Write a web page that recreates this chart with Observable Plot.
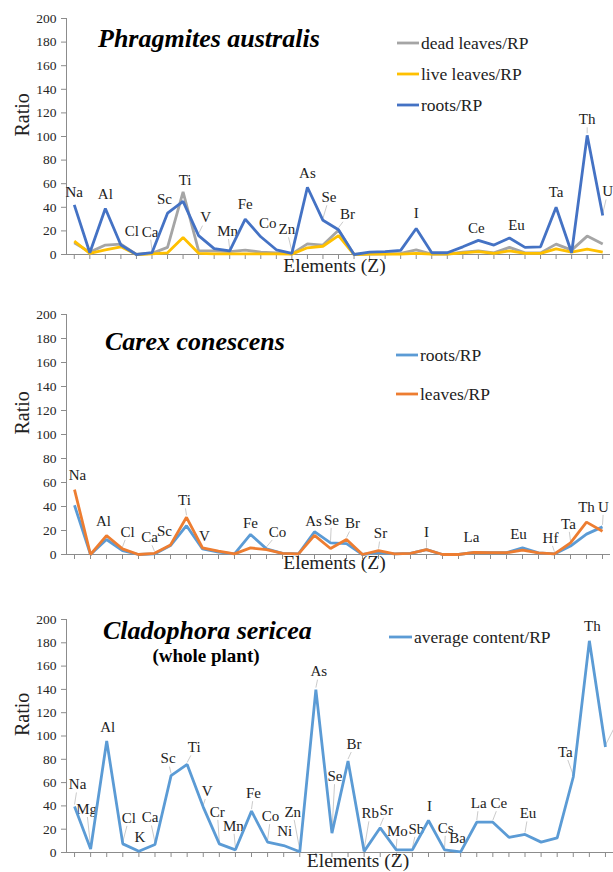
<!DOCTYPE html>
<html><head><meta charset="utf-8">
<script src="https://cdn.jsdelivr.net/npm/d3@7"></script>
<script src="https://cdn.jsdelivr.net/npm/@observablehq/plot@0.6"></script>
<style>
body{margin:0;background:#fff;}
#root{position:relative;width:613px;height:872px;overflow:hidden;background:#fff;}
.panel{position:absolute;left:0;}
</style></head><body><div id="root"></div>
<script>
// ---------- data ----------
const ratioTicks = [0,20,40,60,80,100,120,140,160,180,200];

const elementsP = ["Na","Mg","Al","Cl","K","Ca","Sc","Ti","V","Cr","Mn","Fe","Co","Ni","Zn","As","Se","Br","Rb","Sr","Mo","Sb","I","Cs","Ba","La","Ce","Sm","Eu","Yb","Hf","Ta","W","Th","U"];
const deadLeavesP = [10,2,8,8.8,0,1,6,53,3,3,2.5,3.7,2,1.4,0.5,9,8,20.6,0,0.3,0.5,1,4,0.3,0.3,2,3,1.4,6,1.4,1.4,8.8,3.7,15.6,9];
const liveLeavesP = [11.3,1,4,6.5,0,0.5,1.4,14.4,1,0.5,0.5,0.5,0.5,0.5,0.3,5.7,7,16,0,0.3,0.3,0.3,1,0.3,0.3,1.4,2.5,1,3,1,1,4.8,2,4.5,2];
const rootsP = [42,1.5,39,8,0,1.5,35,45,16,5,3,30,15,4,1,57,29,21,0,2,2.5,3.5,22,1.5,1.5,6.5,12,8,14,6,6.5,40,1.5,101,33];

const elementsC = ["Na","Mg","Al","Cl","K","Ca","Sc","Ti","V","Cr","Mn","Fe","Co","Ni","Zn","As","Se","Br","Rb","Sr","Mo","Sb","I","Cs","Ba","La","Ce","Sm","Eu","Yb","Hf","Ta","Th","U"];
const rootsC = [41,0,12.5,3.3,0,0.5,7.5,24,4.7,2,0.5,16.7,4.7,1,0.5,19,9.7,9,0,1.7,0.5,1,4,0,0,1.7,1.5,1.5,5.5,1.4,0.5,7,17,23];
const leavesC = [54,0,15.8,4.7,0,1,8,31,5.5,2.8,0.5,5.5,4,1,0.5,16,5,12.5,0,3.3,0.5,1,4,0,0,1.7,1.5,1.5,3.6,1.4,0.5,9.7,27,19.4];

const elementsS = elementsC;
const averageS = [39.5,3,95.7,7.4,1,6.9,66,75.6,39,7.4,2.3,35.5,8.9,6,0.6,139.8,16.6,78.5,1,21.2,2.3,2.3,27.5,2.3,0.6,26,26,13,15.5,8.9,12.6,64.8,181.7,90.5];

// annotation offsets (label centre relative to point, px)
const labelsP = [["Na",0,-13],["Al",0,-14],["Cl",11,-13],["Ca",-2,-21],["Sc",-3,-14],["Ti",2,-12],["V",7,-18],["Mn",-2,-20],["Fe",0,-15],["Co",7,-14],["Zn",-5,-24],["As",0,-14],["Se",6,-23],["Br",9,-16],["I",0,-15],["Ce",-2,-12],["Eu",7,-13],["Ta",0,-15],["Th",0,-16],["U",5,-24]];
const labelsC = [["Na",3,-15],["Al",-3,-14],["Cl",5,-17],["Ca",-5,-16],["Sc",-6,-14],["Ti",-2,-17],["V",2,-12],["Fe",0,-11],["Co",11,-17],["As",-1,-11],["Se",1,-23],["Br",6,-16],["Sr",2,-17],["I",0,-18],["La",-3,-15],["Eu",-4,-14],["Hf",-4,-16],["Ta",-2,-19],["Th",0,-15],["U",1,-20]];
const labelsS = [["Na",3,-22],["Mg",-4,-40],["Al",1,-14],["Cl",6,-26],["K",1,-14],["Ca",-5,-27],["Sc",-3,-17],["Ti",7,-17],["V",4,-16],["Cr",-2,-32],["Mn",-2,-24],["Fe",2,-18],["Co",3,-26],["Ni",1,-14],["Zn",-7,-40],["As",3,-18],["Se",3,-57],["Br",6,-17],["Rb",6,-38],["Sr",6,-18],["Mo",1,-19],["Sb",4,-21],["I",1,-14],["Cs",1,-22],["Ba",-3,-14],["La",2,-19],["Ce",6,-19],["Eu",3,-21],["Ta",-8,-25],["Th",3,-15],["U",16,-34]];

const FONT = "Liberation Serif, Tinos, Times New Roman, DejaVu Serif, serif";

function makePanel(cfg) {
  const {top, height, mt, mb, mr, elements, series, labels, title, subtitle, legend, xTitleDx, xTitleDy} = cfg;
  const W = 613, ml = 66;
  const n = elements.length;
  const kx = (W - ml - mr) / n;
  const ky = (height - mt - mb) / 200;
  const marks = [];
  marks.push(Plot.axisY(ratioTicks, {tickSize: 5, tickPadding: 5, fontSize: 13.5, stroke: "#8c8c8c", fill: "#262626", label: null}));
  marks.push(Plot.axisX(d3.range(n), {tickSize: 5, tickFormat: () => "", stroke: "#8c8c8c", label: null}));
  marks.push(Plot.ruleX([-0.5], {stroke: "#8c8c8c"}));
  marks.push(Plot.ruleY([0], {stroke: "#8c8c8c"}));
  for (const [el, dx, dy] of labels) {
    const i = elements.indexOf(el);
    const v = d3.max(series, s => s.values[i]);
    if (-dy > 15) {
      const f = (-dy - 8) / (-dy);
      marks.push(Plot.link([{x1: i, y1: v + 2 / ky, x2: i + dx * f / kx, y2: v + (-dy - 8) / ky}],
        {x1: "x1", y1: "y1", x2: "x2", y2: "y2", stroke: "#c4c4c4", strokeWidth: 0.9}));
    }
    marks.push(Plot.text([{x: i, y: v, t: el}], {x: "x", y: "y", text: "t", dx, dy, fontSize: 15, fill: "#222"}));
  }
  for (const s of series) {
    marks.push(Plot.line(s.values.map((v, i) => ({i, v})), {x: "i", y: "v", stroke: s.color, strokeWidth: 2.8, strokeLinejoin: "miter", strokeLinecap: "butt"}));
  }
  marks.push(Plot.text(["Ratio"], {frameAnchor: "left", text: d => d, rotate: -90, dx: -44, fontSize: 20, fill: "#222"}));
  marks.push(Plot.text(["Elements (Z)"], {frameAnchor: "bottom", text: d => d, dx: xTitleDx, dy: xTitleDy, fontSize: 19.5, fill: "#222"}));

  const svg = Plot.plot({
    width: W, height, marginLeft: ml, marginRight: mr, marginTop: mt, marginBottom: mb,
    x: {domain: [-0.5, n - 0.5], axis: null},
    y: {domain: [0, 200], axis: null},
    style: {fontFamily: FONT, background: "white", overflow: "visible"},
    marks
  });
  svg.querySelectorAll("text").forEach(t => t.style.fontFamily = FONT);
  const g = d3.select(svg).append("g").attr("text-anchor", "start");
  const txt = (x, y, size, s) => g.append("text").attr("x", x).attr("y", y)
      .style("font-family", FONT).style("font-size", size + "px").attr("text-anchor", "start").attr("fill", "#000").text(s);
  txt(title.x, title.y, 26, title.text).style("font-weight", "bold").style("font-style", "italic");
  if (subtitle) txt(subtitle.x, subtitle.y, 19, subtitle.text).attr("text-anchor", "middle").style("font-weight", "bold");
  legend.items.forEach((it, k) => {
    const y = legend.y + k * legend.step;
    g.append("line").attr("x1", legend.x).attr("x2", legend.x + legend.len).attr("y1", y).attr("y2", y).attr("stroke", it.color).attr("stroke-width", 2.8);
    txt(legend.x + legend.len + 2, y + 6, 17.5, it.name).attr("fill", "#222");
  });
  const div = document.createElement("div");
  div.className = "panel";
  div.style.top = top + "px";
  div.appendChild(svg);
  document.getElementById("root").appendChild(div);
}

makePanel({
  top: 0, height: 290, mt: 18, mb: 36, mr: 3,
  elements: elementsP,
  series: [
    {name: "dead leaves/RP", values: deadLeavesP, color: "#A5A5A5"},
    {name: "live leaves/RP", values: liveLeavesP, color: "#FFC000"},
    {name: "roots/RP", values: rootsP, color: "#4472C4"}
  ],
  labels: labelsP,
  title: {text: "Phragmites australis", x: 98, y: 47},
  legend: {x: 397, y: 43, step: 31, len: 22, items: [
    {name: "dead leaves/RP", color: "#A5A5A5"},
    {name: "live leaves/RP", color: "#FFC000"},
    {name: "roots/RP", color: "#4472C4"}]},
  xTitleDx: -4, xTitleDy: 17
});

makePanel({
  top: 290, height: 300, mt: 24, mb: 36, mr: 3,
  elements: elementsC,
  series: [
    {name: "roots/RP", values: rootsC, color: "#5B9BD5"},
    {name: "leaves/RP", values: leavesC, color: "#ED7D31"}
  ],
  labels: labelsC,
  title: {text: "Carex conescens", x: 105, y: 60},
  legend: {x: 396, y: 65, step: 39, len: 22, items: [
    {name: "roots/RP", color: "#5B9BD5"},
    {name: "leaves/RP", color: "#ED7D31"}]},
  xTitleDx: -4, xTitleDy: 14
});

makePanel({
  top: 590, height: 282, mt: 29, mb: 20, mr: 0,
  elements: elementsS,
  series: [
    {name: "average content/RP", values: averageS, color: "#5B9BD5"}
  ],
  labels: labelsS,
  title: {text: "Cladophora sericea", x: 103, y: 49},
  subtitle: {text: "(whole plant)", x: 206, y: 72},
  legend: {x: 389, y: 47, step: 30, len: 23, items: [
    {name: "average content/RP", color: "#5B9BD5"}]},
  xTitleDx: 18, xTitleDy: 14
});
</script></body></html>
